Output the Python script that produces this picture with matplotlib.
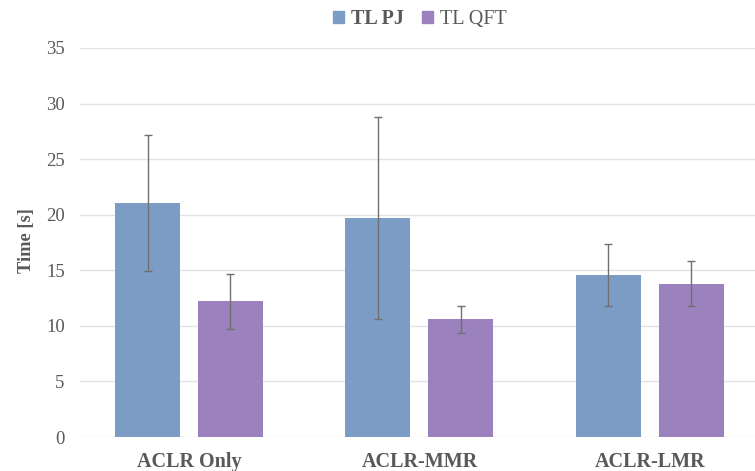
import matplotlib
matplotlib.use("Agg")
import matplotlib.pyplot as plt
from matplotlib.patches import Patch
import numpy as np

categories = ["ACLR Only", "ACLR-MMR", "ACLR-LMR"]
pj_mean = [21.05, 19.7, 14.6]
pj_sd = [6.15, 9.1, 2.8]
qft_mean = [12.2, 10.6, 13.8]
qft_sd = [2.5, 1.2, 2.05]
yticks = [0, 5, 10, 15, 20, 25, 30, 35]

W, H = 755, 471
fig = plt.figure(figsize=(W/100, H/100), dpi=100)
ax = fig.add_axes([80/W, (H-437)/H, (755-80)/W, (437-48)/H])

serif = ["Liberation Serif", "DejaVu Serif"]
txt = "#595959"
blue = "#7b9cc4"
purple = "#9b82bf"

x = np.arange(len(categories))
bw = 0.282
off = 0.18
ax.bar(x - off, pj_mean, bw, color=blue, zorder=2)
ax.bar(x + off, qft_mean, bw, color=purple, zorder=2)
ax.errorbar(x - off, pj_mean, yerr=pj_sd, fmt="none", ecolor="#707070",
            elinewidth=1.0, capsize=3, capthick=1.0, zorder=3)
ax.errorbar(x + off, qft_mean, yerr=qft_sd, fmt="none", ecolor="#707070",
            elinewidth=1.0, capsize=3, capthick=1.0, zorder=3)

ax.set_xlim(-0.473, 2.456)
ax.set_ylim(0, 35)
ax.set_yticks(yticks)
ax.yaxis.grid(True, color="#e3e3e3", linewidth=1.0, zorder=0)
ax.set_axisbelow(True)
for s in ["top", "right", "left", "bottom"]:
    ax.spines[s].set_visible(False)
ax.tick_params(axis="both", length=0)
ax.tick_params(axis="y", pad=11, labelsize=13.5, labelcolor=txt)
ax.tick_params(axis="x", pad=11, labelsize=14.5, labelcolor=txt)
ax.set_xticks(x)
ax.set_xticklabels(categories, fontweight="bold")
for lab in ax.get_yticklabels() + ax.get_xticklabels():
    lab.set_family(serif)

ax.set_ylabel("Time [s]", fontsize=13.3, fontweight="bold", color=txt,
              family=serif)
ax.yaxis.set_label_coords(-45/675, 0.505)

# legend
handles = [Patch(color=blue), Patch(color=purple)]
leg = fig.legend(handles, ["TL PJ", "TL QFT"], loc="center",
                 bbox_to_anchor=(420/W, 1 - 19/H), ncol=2, frameon=False,
                 handlelength=0.55, handleheight=0.55, handletextpad=0.35,
                 columnspacing=0.9, prop={"family": serif, "size": 14.5})
texts = leg.get_texts()
texts[0].set_fontweight("bold")
for t in texts:
    t.set_color(txt)

fig.savefig("out.png", dpi=100)
